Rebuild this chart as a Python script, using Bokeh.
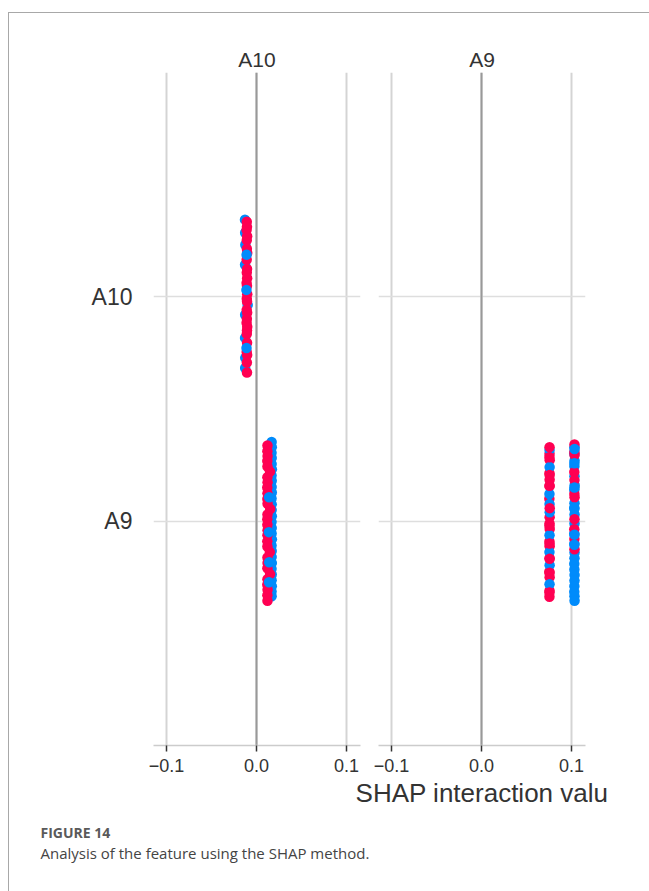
from bokeh.plotting import figure
from bokeh.models import (Range1d, FixedTicker, CustomJSTickFormatter, Span, Label,
                          ColumnDataSource)
from bokeh.layouts import row, column
from bokeh.transform import linear_cmap
from bokeh.embed import file_html
from bokeh.resources import INLINE

# ---------------- data ----------------
features = ["A9", "A10"]            # rows, bottom to top
panel_names = ["A10", "A9"]         # column panels
xtick_values = [-0.1, 0.0, 0.1]
xtick_labels = ["\u22120.1", "0.0", "0.1"]
x_label = "SHAP interaction valu"
caption_head = "FIGURE 14"
caption_text = "Analysis of the feature using the SHAP method."
low_high_colors = ["#008bfb", "#ff0052"]

# panel A10, row A10  (x = interaction value, off = vertical jitter, v = feature value)
p10_r10_x = [-0.0128, -0.0126, -0.0124, -0.0127, -0.0098, -0.0126, -0.0127, -0.0125, -0.0126,
             -0.0108, -0.0106, -0.0110, -0.0104, -0.0108, -0.0107, -0.0103, -0.0109, -0.0105,
             -0.0108, -0.0104, -0.0110, -0.0106, -0.0103, -0.0108, -0.0105, -0.0109, -0.0104,
             -0.0107, -0.0110, -0.0103, -0.0106, -0.0108, -0.0105, -0.0109, -0.0104, -0.0107,
             -0.0106, -0.0110, -0.0112, -0.0111]
p10_r10_off = [0.344, 0.286, 0.232, 0.143, -0.036, -0.080, -0.183, -0.272, -0.317,
               0.335, 0.312, 0.298, 0.270, 0.252, 0.214, 0.196, 0.165, 0.124,
               0.108, 0.083, 0.062, 0.049, 0.012, -0.008, -0.021, -0.058, -0.071,
               -0.098, -0.115, -0.133, -0.150, -0.166, -0.205, -0.246, -0.259, -0.293,
               -0.337, 0.188, 0.031, -0.228]
p10_r10_v = [0, 0, 0, 0, 0, 0, 0, 0, 0,
             1, 1, 1, 1, 1, 1, 1, 1, 1,
             1, 1, 1, 1, 1, 1, 1, 1, 1,
             1, 1, 1, 1, 1, 1, 1, 1, 1,
             1, 0, 0, 0]

# panel A10, row A9
p10_r9_x = [0.0168, 0.0170, 0.0167, 0.0169, 0.0168, 0.0171, 0.0167, 0.0169, 0.0168, 0.0170,
            0.0167, 0.0169, 0.0168, 0.0170, 0.0167, 0.0169, 0.0168, 0.0171, 0.0167, 0.0169,
            0.0168, 0.0170, 0.0167, 0.0169, 0.0168, 0.0170, 0.0167, 0.0168,
            0.0122, 0.0121, 0.0123, 0.0120, 0.0122, 0.0150, 0.0121, 0.0123, 0.0120, 0.0122,
            0.0121, 0.0123, 0.0152, 0.0122, 0.0120, 0.0121, 0.0123, 0.0122, 0.0120, 0.0121,
            0.0148, 0.0122, 0.0123, 0.0121, 0.0151, 0.0122, 0.0120, 0.0123, 0.0121, 0.0122,
            0.0140, 0.0138, 0.0141, 0.0139]
p10_r9_off = [0.353, 0.330, 0.305, 0.282, 0.255, 0.231, 0.204, 0.180, 0.152, 0.128,
              0.101, 0.075, 0.050, 0.022, -0.003, -0.030, -0.055, -0.081, -0.108, -0.133,
              -0.160, -0.186, -0.212, -0.238, -0.263, -0.290, -0.313, -0.335,
              0.337, 0.312, 0.290, 0.268, 0.244, 0.221, 0.196, 0.173, 0.150, 0.124,
              0.099, 0.078, 0.054, 0.030, 0.008, -0.016, -0.041, -0.063, -0.090, -0.113,
              -0.138, -0.162, -0.186, -0.210, -0.236, -0.259, -0.283, -0.306, -0.330, -0.355,
              0.107, -0.049, -0.183, -0.272]
p10_r9_v = [0, 0, 0, 0, 0, 0, 0, 0, 0, 0,
            0, 0, 0, 0, 0, 0, 0, 0, 0, 0,
            0, 0, 0, 0, 0, 0, 0, 0,
            1, 1, 1, 1, 1, 1, 1, 1, 1, 1,
            1, 1, 1, 1, 1, 1, 1, 1, 1, 1,
            1, 1, 1, 1, 1, 1, 1, 1, 1, 1,
            0, 0, 0, 0]

# panel A9, row A9 (two clusters)
p9_r9_x = [0.0756, 0.0758, 0.0755, 0.0757, 0.0756, 0.0754, 0.0757, 0.0756, 0.0758, 0.0755,
           0.0757, 0.0756, 0.0754, 0.0757, 0.0756, 0.0755,
           0.0756, 0.0757, 0.0755, 0.0756, 0.0758, 0.0756, 0.0755, 0.0757, 0.0756,
           0.0756, 0.0755, 0.0757, 0.0756, 0.0758, 0.0755, 0.0756, 0.0757, 0.0756, 0.0755,
           0.1033, 0.1031, 0.1034, 0.1032, 0.1033, 0.1035, 0.1031, 0.1033, 0.1032, 0.1034,
           0.1033, 0.1031, 0.1032, 0.1034, 0.1033, 0.1031, 0.1032, 0.1034, 0.1033, 0.1032,
           0.1031, 0.1033, 0.1034,
           0.1033, 0.1032, 0.1034, 0.1031, 0.1033, 0.1032, 0.1034, 0.1033, 0.1031, 0.1032,
           0.1033,
           0.1034, 0.1032, 0.1033, 0.1031, 0.1033, 0.1032]
p9_r9_off = [0.300, 0.272, 0.214, 0.185, 0.157, 0.100, 0.018, -0.010, -0.035, -0.090,
             -0.112, -0.165, -0.225, -0.250, -0.310, -0.337,
             0.317, 0.241, 0.121, 0.076, 0.040, -0.0625, -0.138, -0.196, -0.281,
             0.330, 0.285, 0.206, 0.158, 0.058, -0.020, -0.100, -0.168, -0.230, -0.318,
             0.330, 0.302, 0.270, 0.245, 0.200, 0.160, 0.140, 0.080, 0.055, 0.030,
             -0.010, -0.055, -0.100, -0.140, -0.165, -0.190, -0.215, -0.240, -0.265, -0.290,
             -0.315, -0.335, -0.355,
             0.342, 0.308, 0.295, 0.219, 0.183, 0.121, 0.107, 0.009, -0.036, -0.080,
             -0.125,
             0.322, 0.258, 0.150, 0.060, -0.060, -0.105]
p9_r9_v = [1, 1, 1, 1, 1, 1, 1, 1, 1, 1,
           1, 1, 1, 1, 1, 1,
           0, 0, 0, 0, 0, 0, 0, 0, 0,
           1, 1, 1, 1, 1, 1, 1, 1, 1, 1,
           0, 0, 0, 0, 0, 0, 0, 0, 0, 0,
           0, 0, 0, 0, 0, 0, 0, 0, 0, 0,
           0, 0, 0,
           1, 1, 1, 1, 1, 1, 1, 1, 1, 1,
           1,
           0, 0, 0, 0, 0, 0]

panel_data = {
    "A10": [("A10", p10_r10_x, p10_r10_off, p10_r10_v),
            ("A9", p10_r9_x, p10_r9_off, p10_r9_v)],
    "A9": [("A9", p9_r9_x, p9_r9_off, p9_r9_v)],
}

# ---------------- styling ----------------
FONT = "Liberation Sans"
TXT = "#333333"


def make_panel(name, width, left, right, show_y, show_xlabel):
    p = figure(width=width, height=797,
               x_range=Range1d(-0.114444, 0.115556), y_range=Range1d(-1, 2),
               output_backend="svg", toolbar_location=None,
               min_border_left=left, min_border_right=right,
               min_border_top=59, min_border_bottom=65, title=name)
    p.outline_line_color = None
    p.background_fill_color = None
    p.border_fill_color = None

    p.title.align = "center"
    p.title.text_font = FONT
    p.title.text_font_size = "21px"
    p.title.text_font_style = "normal"
    p.title.text_color = TXT
    p.title.standoff = 4

    # grids
    p.xgrid.ticker = FixedTicker(ticks=xtick_values)
    p.xgrid.grid_line_color = "#d4d4d4"
    p.xgrid.grid_line_width = 2
    p.ygrid.ticker = FixedTicker(ticks=[0, 1])
    p.ygrid.grid_line_color = "#dedede"
    p.ygrid.grid_line_width = 1.5
    p.add_layout(Span(location=xtick_values[1], dimension="height",
                      line_color="#999999", line_width=2, level="underlay"))

    # x axis
    xa = p.xaxis[0]
    xa.ticker = FixedTicker(ticks=xtick_values)
    xa.formatter = CustomJSTickFormatter(
        args=dict(vals=xtick_values, labs=xtick_labels),
        code="for (let i = 0; i < vals.length; i++) { if (Math.abs(tick - vals[i]) < 1e-9) return labs[i]; } return '';")
    xa.axis_line_color = "#cccccc"
    xa.axis_line_width = 1.5
    xa.major_tick_line_color = TXT
    xa.major_tick_line_width = 1.5
    xa.major_tick_out = 6
    xa.major_tick_in = 0
    xa.minor_tick_line_color = None
    xa.major_label_text_font = FONT
    xa.major_label_text_font_size = "18px"
    xa.major_label_text_color = TXT
    xa.major_label_standoff = 7
    if show_xlabel:
        xa.axis_label = x_label
        xa.axis_label_text_font = FONT
        xa.axis_label_text_font_size = "26px"
        xa.axis_label_text_font_style = "normal"
        xa.axis_label_text_color = TXT
        xa.axis_label_standoff = 3

    # y axis
    ya = p.yaxis[0]
    ya.ticker = FixedTicker(ticks=[0, 1])
    if show_y:
        ya.formatter = CustomJSTickFormatter(args=dict(names=features),
                                             code="return names[Math.round(tick)] || '';")
        ya.axis_line_color = None
        ya.major_tick_line_color = None
        ya.minor_tick_line_color = None
        ya.major_label_text_font = FONT
        ya.major_label_text_font_size = "23px"
        ya.major_label_text_color = TXT
        ya.major_label_standoff = 15
    else:
        ya.visible = False

    for row_name, xs, offs, vals in panel_data[name]:
        base = features.index(row_name)
        src = ColumnDataSource(dict(x=xs, y=[base + o for o in offs], v=vals))
        p.scatter("x", "y", source=src, size=10.5, line_color=None,
                  fill_color=linear_cmap("v", low_high_colors, 0, 1))
    return p


p1 = make_panel(panel_names[0], 360, 144, 9, True, False)
p2 = make_panel(panel_names[1], 309, 38, 64, False, True)
p2.margin = (0, 0, 0, -29)

cap = figure(width=640, height=81, x_range=Range1d(0, 1), y_range=Range1d(0, 1),
             output_backend="svg", toolbar_location=None,
             x_axis_location=None, y_axis_location=None,
             min_border_left=0, min_border_right=0, min_border_top=0, min_border_bottom=0)
cap.outline_line_color = None
cap.xgrid.visible = False
cap.ygrid.visible = False
cap.add_layout(Label(x=31, y=50, x_units="screen", y_units="screen", text=caption_head,
                     text_font="Open Sans", text_font_size="14px", text_font_style="bold",
                     text_color="#5a5a5a"))
cap.add_layout(Label(x=31, y=29, x_units="screen", y_units="screen", text=caption_text,
                     text_font="Open Sans", text_font_size="15px",
                     text_color="#444444"))

layout = column(row(p1, p2), cap, margin=(12, 0, 0, 8),
                styles={"border-top": "1px solid #a8a8a8", "border-left": "1px solid #a8a8a8"})

with open("out.html", "w") as f:
    f.write(file_html(layout, INLINE))
